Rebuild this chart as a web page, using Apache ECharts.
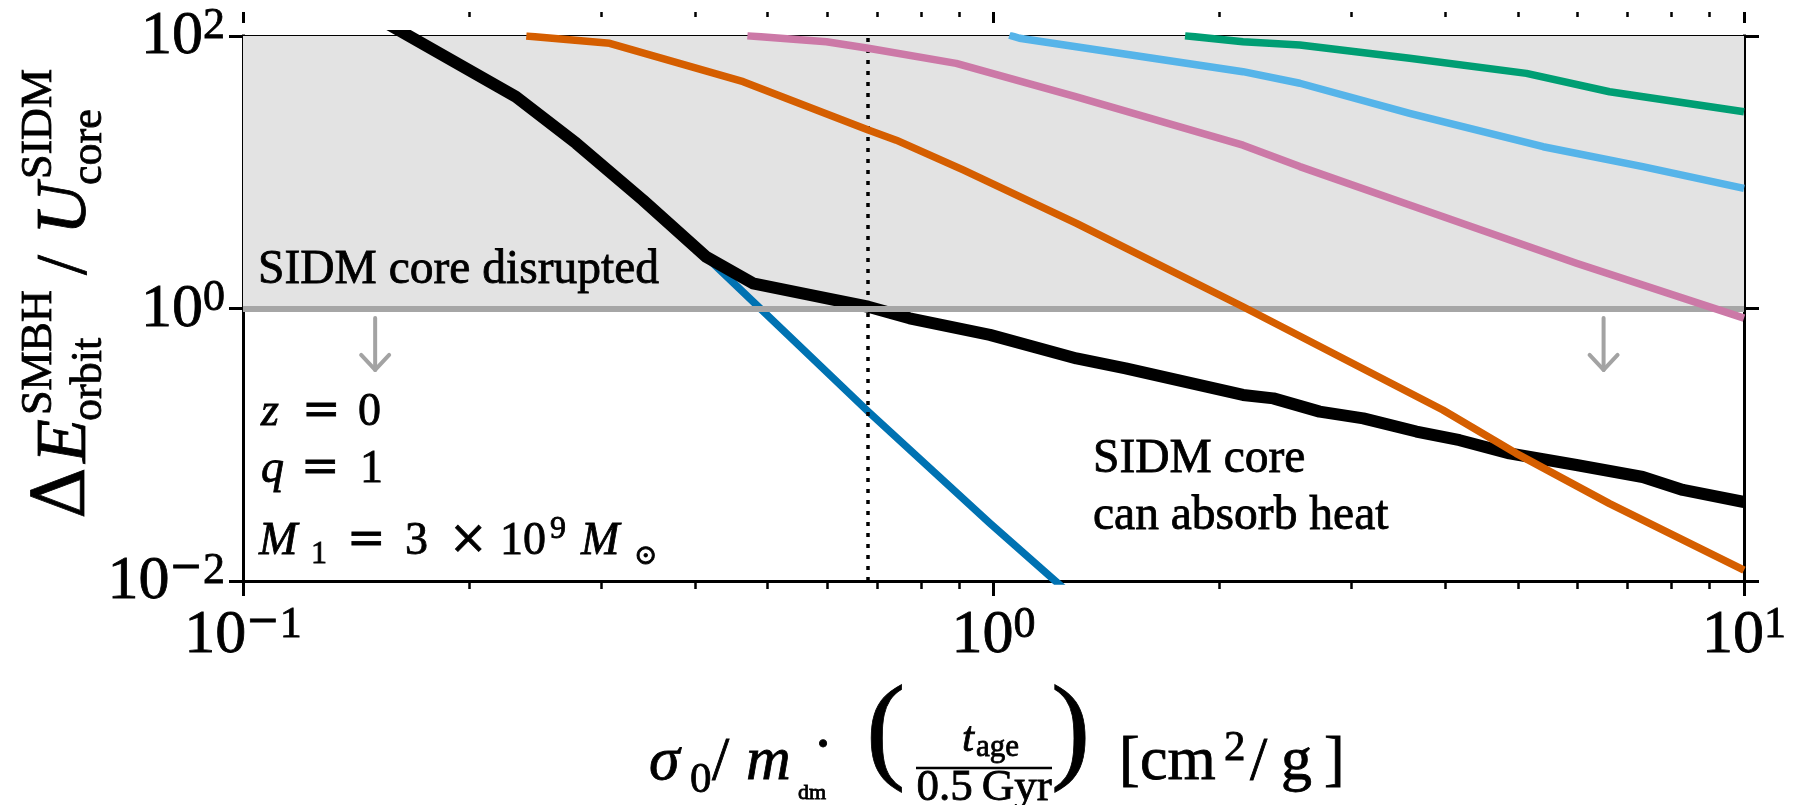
<!DOCTYPE html>
<html>
<head>
<meta charset="utf-8">
<script src="https://cdn.jsdelivr.net/npm/echarts@6/dist/echarts.min.js"></script>
<style>
  html, body { margin: 0; padding: 0; background: #ffffff; }
  #chart { width: 1800px; height: 805px; }
</style>
</head>
<body>
<div id="chart"></div>
<script>
// Orbital energy injected by the SMBH binary relative to the SIDM core binding energy,
// as a function of the (age-scaled) SIDM cross section.

// [cross section, energy ratio] pairs for each curve
const curveBlue   = [[0.155, 125], [0.231, 35.8], [0.278, 16.3], [0.341, 6.26], [0.414, 2.4],
                     [0.681, 0.175], [0.989, 0.0265], [1.25, 0.0085]];
const curveBlack  = [[0.155, 125], [0.231, 35.8], [0.278, 16.3], [0.341, 6.26], [0.414, 2.4],
                     [0.478, 1.53], [0.569, 1.26], [0.681, 1.03], [0.773, 0.847], [0.989, 0.64],
                     [1.29, 0.43], [1.50, 0.364], [2.15, 0.232], [2.36, 0.219], [2.72, 0.175],
                     [3.11, 0.156], [3.66, 0.125], [4.18, 0.108], [4.87, 0.0865], [5.98, 0.071],
                     [7.33, 0.058], [8.29, 0.0466], [10, 0.038]];
const curveOrange = [[0.2385, 100], [0.308, 88.4], [0.464, 46.2], [0.681, 20.4], [0.742, 17.2],
                     [0.911, 10.4], [1.29, 4.22], [2.15, 1.03], [3.97, 0.18], [4.97, 0.0865],
                     [6.62, 0.037], [10, 0.012]];
const curvePink   = [[0.47, 100.5], [0.599, 90.8], [0.681, 81.2], [0.892, 63], [1.29, 35.8],
                     [2.15, 15.8], [2.56, 11], [3.585, 5.75], [5.98, 2.15], [10, 0.85]];
const curveSky    = [[1.05, 101.5], [1.083, 96.2], [2.15, 54.7], [2.56, 45], [3.585, 27.1],
                     [5.40, 15.4], [7.33, 11], [10, 7.62]];
const curveGreen  = [[1.80, 100.5], [2.15, 90.8], [2.56, 85.9], [3.585, 68.6], [5.13, 53.2],
                     [6.62, 39], [10, 27.8]];

// disruption threshold and shaded region
const disruptLevel = 1;
const shadeTop = 100;
// dotted reference cross section
const referenceX = 0.678;
// downward arrows: [x, y start, y tip]
const arrowMarks = [[0.15, 0.852, 0.354], [6.5, 0.852, 0.354]];

// axis ticks and labels
const xRange = [0.1, 10];
const yRange = [0.01, 100];
const xMajorTicks = [0.1, 1, 10];
const xMajorExps = ['-1', '0', '1'];
const xMinorTicks = [0.2, 0.3, 0.4, 0.5, 0.6, 0.7, 0.8, 0.9, 2, 3, 4, 5, 6, 7, 8, 9];
const yMajorTicks = [0.01, 1, 100];
const yMajorExps = ['-2', '0', '2'];

const SERIF = 'Liberation Serif';
const MATHSYM = 'DejaVu Serif';
const INK = '#000000';
const INK_WEIGHT = 0.8;   // slight stroke to give the serif glyphs a fuller weight
const COLORS = {
  blue: '#0072B2', black: '#000000', orange: '#D55E00',
  pink: '#CC79A7', sky: '#56B4E9', green: '#009E73',
  shade: '#e3e3e3', threshold: '#a6a6a6', arrow: '#a3a3a3'
};

function expIndex(ticks, v) {
  return ticks.findIndex(t => Math.abs(Math.log10(t) - Math.log10(v)) < 1e-6);
}
// "10" with a raised exponent; a negative exponent gets a wide minus sign
function powerLabel(exp) {
  return exp.charAt(0) === '-'
    ? '{b|10}{m|\u2212}{s|' + exp.slice(1) + '}'
    : '{b|10}{s|' + exp + '}';
}
const inked = { color: INK, textBorderColor: INK, textBorderWidth: INK_WEIGHT };
const tickRich = {
  b: Object.assign({ fontFamily: SERIF, fontSize: 62, lineHeight: 64, verticalAlign: 'bottom' }, inked),
  s: Object.assign({ fontFamily: SERIF, fontSize: 44, lineHeight: 38, verticalAlign: 'top' }, inked),
  m: Object.assign({ fontFamily: MATHSYM, fontSize: 40, lineHeight: 38, verticalAlign: 'top' }, inked)
};

function curve(name, data, color, width, z) {
  return {
    name, type: 'line', data, xAxisIndex: 0, yAxisIndex: 0,
    showSymbol: false, symbol: 'none', smooth: false, clip: true, z, silent: true,
    lineStyle: { color, width, cap: 'butt', join: 'round' }
  };
}

// one text run, anchored on its alphabetic baseline (drawn with a 'middle' baseline)
const mid = (baseline, size) => baseline - 0.3375 * size;
function txt(text, x, baseline, size, opts) {
  opts = opts || {};
  const run = {
    fontFamily: opts.family || SERIF, fontSize: size,
    fontStyle: opts.italic ? 'italic' : 'normal',
    fill: INK, stroke: INK, lineWidth: INK_WEIGHT, lineHeight: size
  };
  return {
    type: 'text', silent: true, z: 100,
    style: {
      legacy: false,
      text: '{r|' + text + '}', rich: { r: run },
      fontFamily: run.fontFamily, fontSize: size, fontStyle: run.fontStyle,
      x, y: mid(baseline, size), fill: INK,
      align: opts.align || 'left', verticalAlign: 'middle'
    }
  };
}

// y-axis title, built horizontally then turned to read bottom-to-top
const F = 72, FS = 44;
const yTitle = {
  type: 'group', x: 90, y: 519, rotation: Math.PI / 2,
  children: [
    txt('\u0394', 0, 0, F, { family: MATHSYM }),
    txt('E', 56, 0, F, { italic: true }),
    txt('SMBH', 104, -36, FS),
    txt('orbit', 98, 14, FS),
    txt('/', 244, 0, F),
    txt('U', 284, 0, F, { italic: true }),
    txt('SIDM', 340, -36, FS),
    txt('core', 334, 14, FS)
  ]
};

// x-axis title pieces
const XF = 62, XS = 43;
const xTitle = {
  type: 'group',
  children: [
    txt('\u03c3', 649, 784, XF, { italic: true }),
    txt('0', 690, 795, XS),
    txt('/', 712, 784, XF),
    txt('m', 746, 784, XF, { italic: true }),
    txt('dm', 798, 801, 22),
    txt('\u00b7', 823, 769, XF, { align: 'center' }),
    txt('(', 866, 776, 118),
    txt('t', 962, 754, XS, { italic: true }),
    txt('age', 976, 758, 31),
    { type: 'line', silent: true, z: 100, shape: { x1: 916, y1: 768, x2: 1052, y2: 768 },
      style: { stroke: INK, lineWidth: 2.5 } },
    txt('0.5\u2009Gyr', 984, 803, 45, { align: 'center' }),
    txt(')', 1051, 776, 118),
    txt('[', 1119, 784, XF),
    txt('cm', 1140, 784, XF),
    txt('2', 1224, 763, XS),
    txt('/', 1250, 784, XF),
    txt('g', 1281, 784, XF),
    txt(']', 1324, 784, XF)
  ]
};

// annotations inside the axes
const MF = 46, MS = 32;
const notes = {
  type: 'group',
  children: [
    txt('SIDM core disrupted', 258, 287, 47.5),
    txt('SIDM core', 1093, 476, 47.5),
    txt('can absorb heat', 1093, 533, 47.5),
    txt('z', 261, 428, MF, { italic: true }),
    txt('=', 302, 428, MF, { family: MATHSYM }),
    txt('0', 358, 428, MF),
    txt('q', 261, 485, MF, { italic: true }),
    txt('=', 301, 485, MF, { family: MATHSYM }),
    txt('1', 360, 485, MF),
    txt('M', 259, 557, MF, { italic: true }),
    txt('1', 311, 565, MS),
    txt('=', 347, 557, MF, { family: MATHSYM }),
    txt('3', 405, 557, MF),
    txt('\u00d7', 449, 557, MF, { family: MATHSYM }),
    txt('10', 500, 557, MF),
    txt('9', 550, 540, MS),
    txt('M', 581, 557, MF, { italic: true }),
    txt('\u2299', 634, 566, 28, { family: MATHSYM })
  ]
};

const axisLineStyle = { color: INK, width: 3, cap: 'square' };
const hiddenLabel = { show: false };

const option = {
  animation: false,
  backgroundColor: '#ffffff',
  textStyle: { fontFamily: SERIF },
  grid: { left: 243, right: 56, top: 36, bottom: 224, containLabel: false },
  xAxis: [
    { type: 'log', logBase: 10, min: xRange[0], max: xRange[1], position: 'bottom',
      axisLine: { show: true, onZero: false, lineStyle: axisLineStyle },
      axisTick: { show: true, inside: false, length: 15, lineStyle: { color: INK, width: 3 }, customValues: xMajorTicks },
      axisLabel: {
        show: true, margin: 22, customValues: xMajorTicks, rich: tickRich,
        formatter: v => powerLabel(xMajorExps[expIndex(xMajorTicks, v)])
      },
      splitLine: { show: false }, minorTick: { show: false } },
    { type: 'log', logBase: 10, min: xRange[0], max: xRange[1], position: 'bottom',
      axisLine: { show: false },
      axisTick: { show: true, inside: false, length: 8, lineStyle: { color: INK, width: 2.5 }, customValues: xMinorTicks },
      axisLabel: hiddenLabel, splitLine: { show: false } },
    { type: 'log', logBase: 10, min: xRange[0], max: xRange[1], position: 'top',
      axisLine: { show: true, onZero: false, lineStyle: axisLineStyle },
      axisTick: { show: false }, axisLabel: hiddenLabel, splitLine: { show: false } },
    { type: 'log', logBase: 10, min: xRange[0], max: xRange[1], position: 'top', offset: 24,
      axisLine: { show: false },
      axisTick: { show: true, inside: true, length: 11, lineStyle: { color: INK, width: 3 }, customValues: xMajorTicks },
      axisLabel: hiddenLabel, splitLine: { show: false } },
    { type: 'log', logBase: 10, min: xRange[0], max: xRange[1], position: 'top', offset: 24,
      axisLine: { show: false },
      axisTick: { show: true, inside: true, length: 5, lineStyle: { color: INK, width: 2.5 }, customValues: xMinorTicks },
      axisLabel: hiddenLabel, splitLine: { show: false } }
  ],
  yAxis: [
    { type: 'log', logBase: 10, min: yRange[0], max: yRange[1], position: 'left',
      axisLine: { show: true, onZero: false, lineStyle: axisLineStyle },
      axisTick: { show: true, inside: false, length: 14, lineStyle: { color: INK, width: 3 }, customValues: yMajorTicks },
      axisLabel: {
        show: true, margin: 18, customValues: yMajorTicks, rich: tickRich,
        formatter: v => powerLabel(yMajorExps[expIndex(yMajorTicks, v)])
      },
      splitLine: { show: false }, minorTick: { show: false } },
    { type: 'log', logBase: 10, min: yRange[0], max: yRange[1], position: 'right',
      axisLine: { show: true, onZero: false, lineStyle: axisLineStyle },
      axisTick: { show: true, inside: false, length: 15, lineStyle: { color: INK, width: 3 }, customValues: yMajorTicks },
      axisLabel: hiddenLabel, splitLine: { show: false } }
  ],
  series: [
    // shaded "disrupted" region and its threshold line
    { type: 'line', data: [], xAxisIndex: 0, yAxisIndex: 0, z: 1, silent: true, symbol: 'none',
      markArea: { silent: true, itemStyle: { color: COLORS.shade },
        data: [[{ yAxis: disruptLevel }, { yAxis: shadeTop }]] },
      markLine: { silent: true, symbol: 'none', label: { show: false },
        lineStyle: { color: COLORS.threshold, width: 6, type: 'solid' },
        data: [{ yAxis: disruptLevel }] } },
    // arrows pointing into the "absorb" region
    { type: 'custom', xAxisIndex: 0, yAxisIndex: 0, z: 2, silent: true, data: arrowMarks,
      encode: { x: 0, y: [1, 2] },
      renderItem: (params, api) => {
        const top = api.coord([api.value(0), api.value(1)]);
        const tip = api.coord([api.value(0), api.value(2)]);
        const st = { stroke: COLORS.arrow, lineWidth: 4, fill: null, lineCap: 'round', lineJoin: 'round' };
        return { type: 'group', children: [
          { type: 'line', shape: { x1: top[0], y1: top[1], x2: tip[0], y2: tip[1] }, style: st },
          { type: 'polyline', shape: { points: [[tip[0] - 14, tip[1] - 15], [tip[0], tip[1]], [tip[0] + 14, tip[1] - 15]] }, style: st }
        ] };
      } },
    curve('blue', curveBlue, COLORS.blue, 7.5, 3),
    curve('black', curveBlack, COLORS.black, 12, 4),
    curve('orange', curveOrange, COLORS.orange, 7.5, 5),
    curve('pink', curvePink, COLORS.pink, 7.5, 5),
    curve('sky', curveSky, COLORS.sky, 7.5, 5),
    curve('green', curveGreen, COLORS.green, 7.5, 5),
    // dotted reference line
    { type: 'line', data: [], xAxisIndex: 0, yAxisIndex: 0, z: 6, silent: true, symbol: 'none',
      markLine: { silent: true, symbol: 'none', label: { show: false },
        lineStyle: { color: INK, width: 3.5, type: [4, 7] },
        data: [{ xAxis: referenceX }] } }
  ],
  graphic: { elements: [yTitle, xTitle, notes] }
};

const chart = echarts.init(document.getElementById('chart'));
chart.setOption(option);
</script>
</body>
</html>
